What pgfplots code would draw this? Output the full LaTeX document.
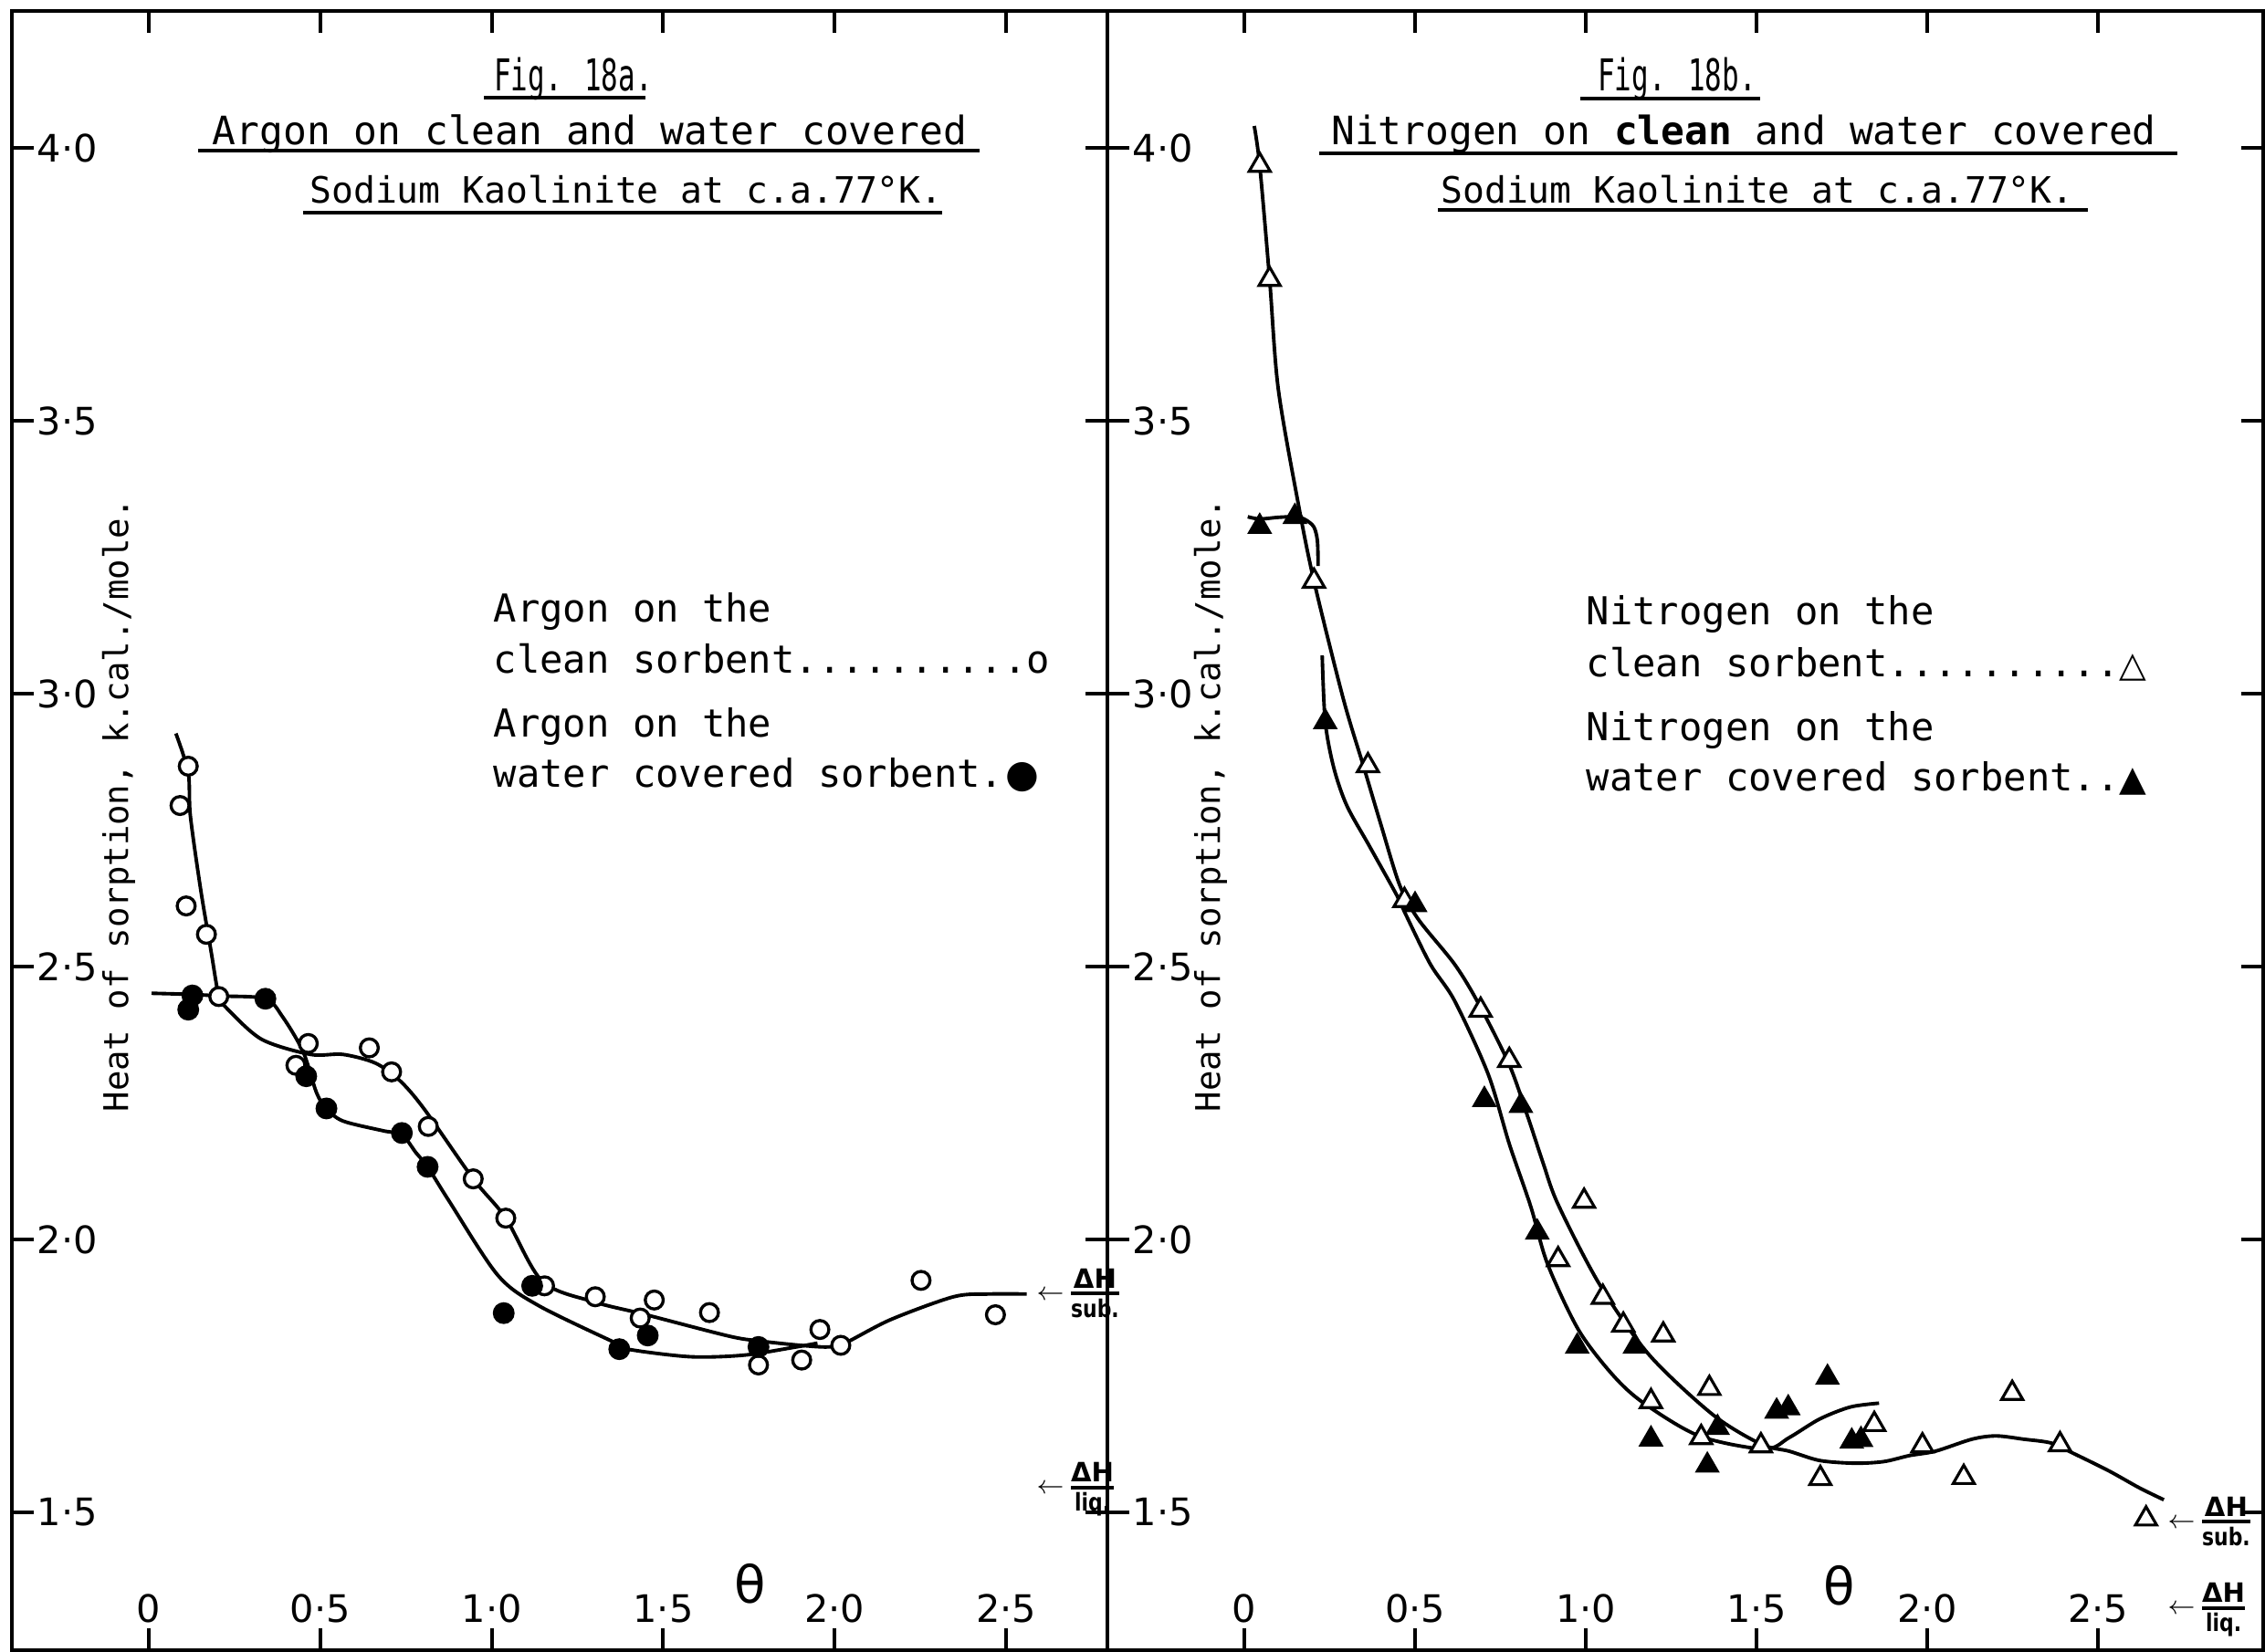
\documentclass[border=0pt]{standalone}
\usepackage{amsmath}
\usepackage{fontspec}
\usepackage{graphicx}
\usepackage{pgfplots}
\pgfplotsset{compat=1.18}
\setmainfont{DejaVu Sans}
\newfontfamily\monofont{DejaVu Sans Mono}
\newfontfamily\symfont{DejaVu Sans}
\newcommand{\tickfont}{\fontsize{11.8pt}{13pt}\selectfont}
\newcommand{\legfont}{\monofont\fontsize{12pt}{14pt}\selectfont}
\newcommand{\titfont}{\monofont\fontsize{12.2pt}{14pt}\selectfont}
\newcommand{\titfontb}{\monofont\fontsize{11.3pt}{14pt}\selectfont}
\newcommand{\ylabfont}{\monofont\fontsize{10.6pt}{12pt}\selectfont}
\newcommand{\dH}[1]{\fontsize{8.5pt}{10pt}\selectfont$\leftarrow\!\genfrac{}{}{1.1pt}{}{\hbox{\fontsize{8.3pt}{10pt}\selectfont\bfseries ΔH}}{\hbox{\scalebox{0.82}[1]{\fontsize{7.6pt}{10pt}\selectfont\bfseries #1}}}$}
\pgfplotsset{
  panel/.style={
    scale only axis, anchor=south west,
    height=17.96cm, ymin=1.2475, ymax=4.2508,
    axis line style={line width=1.2pt},
    tick align=inside, major tick length=0.24cm,
    tick style={line width=1.1pt, black},
    xtick={0,0.5,1,1.5,2,2.5},
    xticklabels={0,0·5,1·0,1·5,2·0,2·5},
    ytick={1.5,2,2.5,3,3.5,4},
    yticklabels={1·5,2·0,2·5,3·0,3·5,4·0},
    xticklabel style={anchor=base, yshift=0.30cm, inner sep=0pt, font=\tickfont},
    yticklabel style={anchor=west, xshift=0.27cm, inner sep=0pt, font=\tickfont},
  },
  curve/.style={black, line width=1.1pt, smooth, tension=0.5, no marks},
  ocirc/.style={only marks, mark=*, mark size=2.8pt, mark options={fill=white, draw=black, line width=0.95pt}},
  fcirc/.style={only marks, mark=*, mark size=3.2pt, mark options={fill=black, draw=black}},
  otri/.style={only marks, mark=triangle*, mark size=3.8pt, mark options={fill=white, draw=black, line width=0.9pt}},
  ftri/.style={only marks, mark=triangle*, mark size=4.1pt, mark options={fill=black, draw=black}},
}
\begin{document}
\begin{tikzpicture}
\useasboundingbox (0,0) rectangle (24.81,18.10);

% ---------------- Left panel: Argon ----------------
\begin{axis}[panel, at={(0.13cm,0.02cm)}, width=12.00cm,
  xmin=-0.3994, xmax=2.7955]
% clean sorbent curve
\addplot[curve] coordinates {
(0.079,2.927) (0.115,2.855) (0.121,2.777) (0.151,2.642) (0.181,2.530) (0.204,2.445)
(0.222,2.427) (0.328,2.367) (0.471,2.339) (0.566,2.339) (0.661,2.323) (0.732,2.291)
(0.803,2.239) (0.946,2.111) (1.041,2.039) (1.148,1.923) (1.302,1.885) (1.444,1.863)
(1.691,1.823) (1.780,1.814) (1.900,1.806) (1.980,1.803) (2.030,1.810) (2.163,1.853)
(2.347,1.895) (2.450,1.900) (2.560,1.900)};
% water covered curve
\addplot[curve] coordinates {
(0.008,2.451) (0.120,2.449) (0.210,2.446) (0.340,2.441) (0.390,2.408) (0.450,2.344)
(0.489,2.269) (0.518,2.240) (0.566,2.217) (0.684,2.199) (0.738,2.192) (0.779,2.159)
(0.813,2.133) (0.875,2.071) (1.017,1.935) (1.136,1.879) (1.373,1.807) (1.415,1.797)
(1.582,1.785) (1.736,1.788) (1.888,1.803) (1.950,1.810)};
% clean sorbent points
\addplot[ocirc] coordinates {
(0.091,2.795) (0.115,2.867) (0.109,2.611) (0.168,2.559) (0.204,2.445) (0.465,2.359)
(0.429,2.319) (0.643,2.351) (0.708,2.307) (0.815,2.207) (0.946,2.111) (1.041,2.039)
(1.154,1.915) (1.302,1.895) (1.474,1.889) (1.433,1.856) (1.635,1.866) (2.252,1.925)
(2.469,1.862) (1.957,1.835) (2.018,1.806) (1.904,1.779) (1.778,1.770)};
% water covered points
\addplot[fcirc] coordinates {
(0.127,2.447) (0.115,2.421) (0.340,2.441) (0.459,2.299) (0.518,2.240) (0.738,2.195)
(0.813,2.133) (1.118,1.915) (1.035,1.865) (1.372,1.799) (1.455,1.824) (1.778,1.803)};
\end{axis}

% ---------------- Right panel: Nitrogen ----------------
\begin{axis}[panel, at={(12.13cm,0.02cm)}, width=12.66cm,
  xmin=-0.4011, xmax=2.984]
% clean sorbent curve
\addplot[curve] coordinates {
(0.029,4.040) (0.045,3.968) (0.074,3.759) (0.099,3.560) (0.157,3.351) (0.204,3.206)
(0.290,2.990) (0.350,2.865) (0.400,2.760) (0.455,2.649) (0.509,2.587) (0.616,2.504)
(0.687,2.431) (0.776,2.320) (0.830,2.225) (0.874,2.142) (0.919,2.064) (1.040,1.918)
(1.185,1.789) (1.372,1.679) (1.513,1.625) (1.596,1.612) (1.685,1.595) (1.788,1.590)
(1.873,1.593) (1.948,1.604) (2.024,1.612) (2.131,1.634) (2.202,1.640) (2.283,1.634)
(2.363,1.627) (2.425,1.609) (2.532,1.576) (2.621,1.545) (2.693,1.523)};
% water covered curve, upper piece
\addplot[curve] coordinates {
(0.010,3.324) (0.045,3.320) (0.100,3.323) (0.148,3.324) (0.175,3.320) (0.203,3.306)
(0.214,3.280) (0.216,3.234)};
% water covered curve, main piece
\addplot[curve] coordinates {
(0.228,3.070) (0.237,2.948) (0.262,2.864) (0.300,2.795) (0.366,2.721) (0.447,2.630)
(0.473,2.595) (0.545,2.504) (0.616,2.437) (0.714,2.303) (0.776,2.175) (0.839,2.060)
(0.888,1.955) (0.979,1.834) (1.080,1.751) (1.170,1.700) (1.332,1.640) (1.523,1.616)
(1.596,1.637) (1.685,1.671) (1.775,1.693) (1.859,1.700)};
% clean sorbent points
\addplot[otri] coordinates {
(0.045,3.968) (0.074,3.759) (0.204,3.206) (0.362,2.868) (0.469,2.621) (0.692,2.420)
(0.776,2.328) (0.995,2.070) (0.919,1.963) (1.050,1.894) (1.110,1.843) (1.227,1.825)
(1.362,1.727) (1.191,1.703) (1.338,1.637) (1.513,1.622) (1.845,1.661) (1.687,1.562)
(1.986,1.622) (2.107,1.564) (2.249,1.718) (2.389,1.624) (2.641,1.488)};
% water covered points
\addplot[ftri] coordinates {
(0.045,3.306) (0.148,3.324) (0.237,2.948) (0.500,2.613) (0.703,2.256) (0.810,2.245)
(0.858,2.013) (0.975,1.804) (1.144,1.804) (1.191,1.634) (1.386,1.655) (1.356,1.586)
(1.559,1.685) (1.593,1.691) (1.708,1.747) (1.779,1.630) (1.806,1.633)};
\end{axis}

% ---------------- Titles ----------------
\node[anchor=base, inner sep=0] at (6.28,17.10) {\scalebox{0.72}[1.12]{\titfont Fig. 18a.}};
\node[anchor=base, inner sep=0] at (6.46,16.51) {\titfont Argon on clean and water covered};
\node[anchor=base, inner sep=0] at (6.86,15.87) {\titfontb Sodium Kaolinite at c.a.77°K.};
\draw[line width=1.2pt] (5.30,17.03) -- (7.07,17.03);
\draw[line width=1.2pt] (2.17,16.45) -- (10.73,16.45);
\draw[line width=1.2pt] (3.32,15.77) -- (10.32,15.77);

\node[anchor=base, inner sep=0] at (18.37,17.10) {\scalebox{0.72}[1.12]{\titfont Fig. 18b.}};
\node[anchor=base, inner sep=0] at (19.10,16.51) {\titfont Nitrogen on {\bfseries clean} and water covered};
\node[anchor=base, inner sep=0] at (19.25,15.87) {\titfontb Sodium Kaolinite at c.a.77°K.};
\draw[line width=1.2pt] (17.31,17.02) -- (19.28,17.02);
\draw[line width=1.2pt] (14.45,16.42) -- (23.85,16.42);
\draw[line width=1.2pt] (15.75,15.80) -- (22.87,15.80);

% ---------------- Legends ----------------
\node[anchor=base west, inner sep=0] at (5.40,11.28) {\legfont Argon on the};
\node[anchor=base west, inner sep=0] at (5.40,10.72) {\legfont clean sorbent..........o};
\node[anchor=base west, inner sep=0] at (5.40,10.02) {\legfont Argon on the};
\node[anchor=base west, inner sep=0] at (5.40,9.47) {\legfont water covered sorbent.\kern0.5pt{\symfont\fontsize{12pt}{14pt}\selectfont ●}};

\node[anchor=base west, inner sep=0] at (17.37,11.25) {\legfont Nitrogen on the};
\node[anchor=base west, inner sep=0] at (17.37,10.68) {\legfont clean sorbent..........{\symfont\fontsize{11pt}{14pt}\selectfont △}};
\node[anchor=base west, inner sep=0] at (17.37,9.98) {\legfont Nitrogen on the};
\node[anchor=base west, inner sep=0] at (17.37,9.43) {\legfont water covered sorbent..{\symfont\fontsize{11pt}{14pt}\selectfont ▲}};

% ---------------- Axis titles ----------------
\node[rotate=90, anchor=center, inner sep=0] at (1.30,9.28) {\ylabfont Heat of sorption, k.cal./mole.};
\node[rotate=90, anchor=center, inner sep=0] at (13.26,9.28) {\ylabfont Heat of sorption, k.cal./mole.};
\node[anchor=center, inner sep=0] at (8.22,0.75) {\fontsize{16pt}{17pt}\selectfont θ};
\node[anchor=center, inner sep=0] at (20.15,0.73) {\fontsize{16pt}{17pt}\selectfont θ};

% ---------------- Heat of sublimation / liquefaction markers ----------------
\node[anchor=west, inner sep=0] at (11.35,3.93) {\dH{sub.}};
\node[anchor=west, inner sep=0] at (11.35,1.78) {\dH{liq.}};
\node[anchor=west, inner sep=0] at (23.74,1.43) {\dH{sub.}};
\node[anchor=west, inner sep=0] at (23.74,0.46) {\dH{liq.}};
\end{tikzpicture}
\end{document}
